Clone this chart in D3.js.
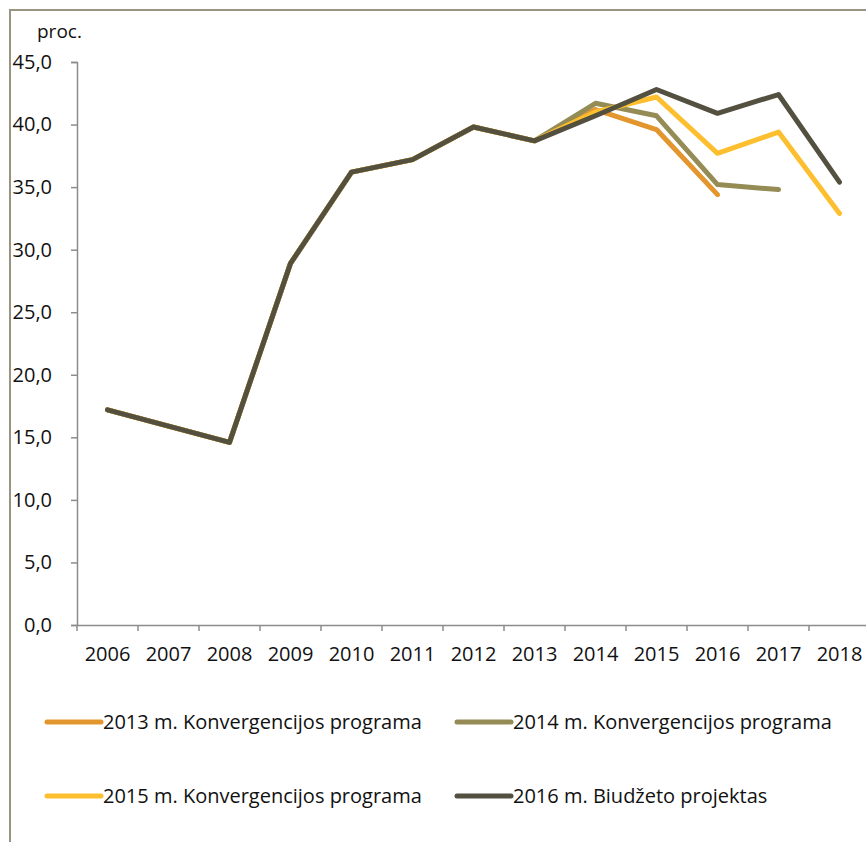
<!DOCTYPE html>
<html>
<head>
<meta charset="utf-8">
<script src="https://cdn.jsdelivr.net/npm/d3@7"></script>
<style>
  body { margin: 0; background: #fff; }
  svg { display: block; font-family: "Open Sans", "Noto Sans", sans-serif; }
</style>
</head>
<body>
<svg id="chart" width="866" height="842"></svg>
<script>
    // Data
    const years = ['2006', '2007', '2008', '2009', '2010', '2011', '2012', '2013', '2014', '2015', '2016', '2017', '2018'];
    const history = [17.2, 15.9, 14.6, 28.9, 36.2, 37.2, 39.8, 38.7];

    const conv2013 = history.concat([41.2, 39.6, 34.4]);
    const conv2014 = history.concat([41.7, 40.7, 35.2, 34.8]);
    const conv2015 = history.concat([41.0, 42.2, 37.7, 39.4, 32.9]);
    const budget2016 = history.concat([40.7, 42.8, 40.9, 42.4, 35.4]);

    const seriesNames = [
        '2013 m. Konvergencijos programa',
        '2014 m. Konvergencijos programa',
        '2015 m. Konvergencijos programa',
        '2016 m. Biudžeto projektas'
    ];
    const seriesValues = [conv2013, conv2014, conv2015, budget2016];
    const seriesColors = ['#e3962d', '#958c55', '#fdbf2f', '#535040'];
    const yTicks = [0, 5, 10, 15, 20, 25, 30, 35, 40, 45];

    const FONT = 20;
    const svg = d3.select('#chart');

    // Outer frame (runs off the right and bottom edge)
    svg.append('rect')
        .attr('x', 10).attr('y', 10)
        .attr('width', 900).attr('height', 900)
        .attr('fill', 'none')
        .attr('stroke', '#9b9482')
        .attr('stroke-width', 2);

    const x = d3.scaleBand().domain(years).range([77, 870]);
    const y = d3.scaleLinear().domain([0, 45]).range([625, 62]);

    // Y axis
    const yAxis = svg.append('g')
        .attr('transform', 'translate(77,0)')
        .call(d3.axisLeft(y).tickValues(yTicks).tickSize(6).tickPadding(19)
            .tickFormat(d => d.toFixed(1).replace('.', ',')));
    yAxis.select('.domain').attr('stroke', '#8c8c8c').attr('stroke-width', 1.5);
    yAxis.selectAll('.tick line').attr('stroke', '#8c8c8c').attr('stroke-width', 1.5);
    yAxis.selectAll('text').attr('font-size', FONT).attr('fill', '#111').attr('font-family', '"Open Sans", sans-serif');

    // X axis with ticks on category boundaries
    const xAxis = svg.append('g')
        .attr('transform', 'translate(0,625)')
        .call(d3.axisBottom(x).tickSize(0).tickPadding(22));
    xAxis.select('.domain').attr('stroke', '#8c8c8c').attr('stroke-width', 1.5);
    xAxis.selectAll('text').attr('font-size', FONT).attr('fill', '#111').attr('font-family', '"Open Sans", sans-serif');
    xAxis.selectAll('.bound')
        .data(years.concat(['end']))
        .enter()
        .append('line')
        .attr('class', 'bound')
        .attr('x1', (d, i) => x.range()[0] + i * x.bandwidth())
        .attr('x2', (d, i) => x.range()[0] + i * x.bandwidth())
        .attr('y1', 0).attr('y2', 6)
        .attr('stroke', '#8c8c8c').attr('stroke-width', 1.5);

    // Unit label
    svg.append('text')
        .attr('x', 37).attr('y', 38)
        .attr('font-size', 19).attr('fill', '#111')
        .text('proc.');

    // Lines
    const line = d3.line()
        .x((d, i) => x(years[i]) + x.bandwidth() / 2)
        .y(d => y(d));

    seriesValues.forEach((vals, i) => {
        svg.append('path')
            .datum(vals)
            .attr('d', line)
            .attr('fill', 'none')
            .attr('stroke', seriesColors[i])
            .attr('stroke-width', 5)
            .attr('stroke-linejoin', 'round')
            .attr('stroke-linecap', 'round');
    });

    // Legend, two columns by two rows
    const legendPos = [[47, 722], [457, 722], [47, 796], [457, 796]];
    seriesNames.forEach((name, i) => {
        const [lx, ly] = legendPos[i];
        svg.append('line')
            .attr('x1', lx).attr('x2', lx + 54)
            .attr('y1', ly).attr('y2', ly)
            .attr('stroke', seriesColors[i])
            .attr('stroke-width', 5)
            .attr('stroke-linecap', 'round');
        svg.append('text')
            .attr('x', lx + 56).attr('y', ly + 7)
            .attr('font-size', FONT).attr('fill', '#111')
            .text(name);
    });
</script>
</body>
</html>
